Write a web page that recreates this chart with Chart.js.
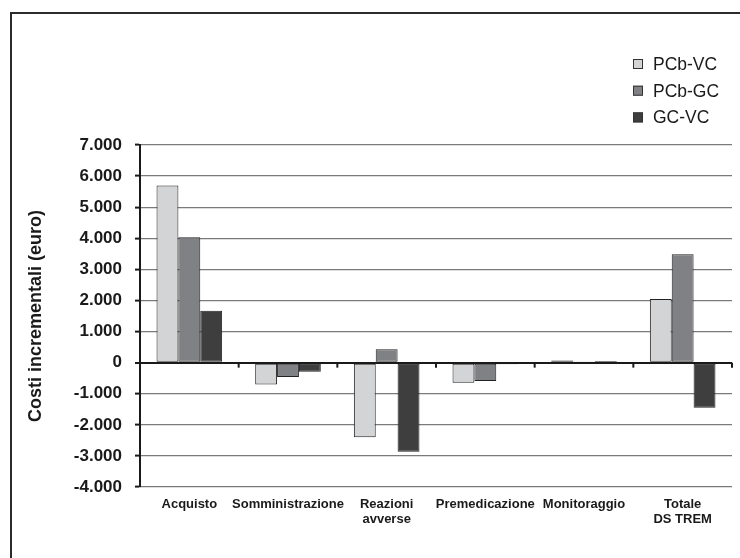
<!DOCTYPE html>
<html>
    <head>
        <title>Costi incrementali</title>
        <meta charset="utf-8">
        <script src="https://cdn.jsdelivr.net/npm/chart.js"></script>
        <style>
          body {
            margin: 0;
            background: #fff;
            overflow: hidden;
          }

          #wrap {
            position: relative;
            width: 740px;
            height: 558px;
            overflow: hidden;
          }

          /* frame around the figure, runs off the right and bottom edges */
          #frame {
            position: absolute;
            left: 10px;
            top: 12px;
            width: 800px;
            height: 600px;
            border: 2px solid #2b2b2b;
          }

          #costChart {
            position: absolute;
            left: 0;
            top: 0;
          }
        </style>
    </head>
    <body>
        <div id="wrap">
          <div id="frame"></div>
          <canvas id="costChart" width="740" height="558"></canvas>
        </div>
        <script>
            const categories = ["Acquisto", "Somministrazione", ["Reazioni", "avverse"],
                                "Premedicazione", "Monitoraggio", ["Totale", "DS TREM"]];

            const pcbVc = [5700, -700, -2400, -650, 70, 2050];
            const pcbGc = [4030, -460, 430, -590, 10, 3490];
            const gcVc  = [1670, -290, -2870, -50, 50, -1450];

            const yTickValues = [-4000, -3000, -2000, -1000, 0, 1000, 2000, 3000, 4000, 5000, 6000, 7000];
            const yTickLabels = ["-4.000", "-3.000", "-2.000", "-1.000", "0", "1.000",
                                 "2.000", "3.000", "4.000", "5.000", "6.000", "7.000"];

            const FONT = "'Liberation Sans', Arial, Helvetica, sans-serif";
            const INK = "#1a1a1a";

            // small marks hanging under the zero line between the categories
            const zeroTicks = {
                id: "zeroTicks",
                afterDatasetsDraw(chart) {
                    const x = chart.scales.x;
                    const y0 = chart.scales.y.getPixelForValue(0);
                    const ctx = chart.ctx;
                    ctx.save();
                    ctx.strokeStyle = INK;
                    ctx.lineWidth = 2;
                    for (let i = 0; i < categories.length; i++) {
                        let px;
                        if (i < categories.length - 1) {
                            px = (x.getPixelForTick(i) + x.getPixelForTick(i + 1)) / 2;
                        } else {
                            px = chart.chartArea.right;
                        }
                        ctx.beginPath();
                        ctx.moveTo(px, y0);
                        ctx.lineTo(px, y0 + 5);
                        ctx.stroke();
                    }
                    ctx.restore();
                }
            };

            // stacked legend in the top right corner
            const sideLegend = {
                id: "sideLegend",
                afterDraw(chart) {
                    const ctx = chart.ctx;
                    ctx.save();
                    ctx.font = "17.5px " + FONT;
                    ctx.textBaseline = "middle";
                    chart.data.datasets.forEach((ds, i) => {
                        const yc = 64 + i * 26.7;
                        ctx.fillStyle = ds.backgroundColor;
                        ctx.fillRect(633, yc - 5, 10, 10);
                        ctx.strokeStyle = "#333";
                        ctx.lineWidth = 1;
                        ctx.strokeRect(633.5, yc - 4.5, 9, 9);
                        ctx.fillStyle = INK;
                        ctx.fillText(ds.label, 653, yc + 1);
                    });
                    ctx.restore();
                }
            };

            const ctx = document.getElementById("costChart").getContext("2d");

            new Chart(ctx, {
                type: "bar",
                data: {
                    labels: categories,
                    datasets: [
                        { label: "PCb-VC", data: pcbVc, backgroundColor: "#d3d4d6" },
                        { label: "PCb-GC", data: pcbGc, backgroundColor: "#808184" },
                        { label: "GC-VC",  data: gcVc,  backgroundColor: "#3e3e3e" }
                    ]
                },
                options: {
                    responsive: false,
                    animation: false,
                    layout: {
                        padding: { left: 0, top: 145, right: 8, bottom: 0 }
                    },
                    datasets: {
                        bar: {
                            categoryPercentage: 0.665,
                            barPercentage: 1,
                            borderColor: "#222",
                            borderWidth: 1,
                            borderSkipped: false
                        }
                    },
                    plugins: {
                        legend: { display: false },
                        tooltip: { enabled: false }
                    },
                    scales: {
                        x: {
                            grid: { drawOnChartArea: false, drawTicks: false },
                            border: { display: false },
                            ticks: {
                                autoSkip: false,
                                maxRotation: 0,
                                minRotation: 0,
                                padding: 10,
                                color: INK,
                                font: { family: FONT, size: 13, weight: "bold", lineHeight: 1.15 }
                            },
                            afterFit(scale) { scale.height = 71; }
                        },
                        y: {
                            min: -4000,
                            max: 7000,
                            afterBuildTicks(scale) {
                                scale.ticks = yTickValues.map(v => ({ value: v }));
                            },
                            grid: {
                                color: c => (c.tick && c.tick.value === 0) ? INK : "#7a7a7a",
                                lineWidth: c => (c.tick && c.tick.value === 0) ? 2 : 1.2,
                                tickColor: INK,
                                tickLength: 5,
                                tickWidth: 2
                            },
                            border: { color: INK, width: 2 },
                            ticks: {
                                padding: 13,
                                color: INK,
                                font: { family: FONT, size: 17, weight: "bold" },
                                callback: v => yTickLabels[yTickValues.indexOf(v)]
                            },
                            title: {
                                display: true,
                                text: "Costi incrementali (euro)",
                                color: INK,
                                padding: { top: 25, bottom: 0 },
                                font: { family: FONT, size: 18, weight: "bold" }
                            },
                            afterFit(scale) { scale.width = 140; }
                        }
                    }
                },
                plugins: [zeroTicks, sideLegend]
            });
        </script>
    </body>
</html>
